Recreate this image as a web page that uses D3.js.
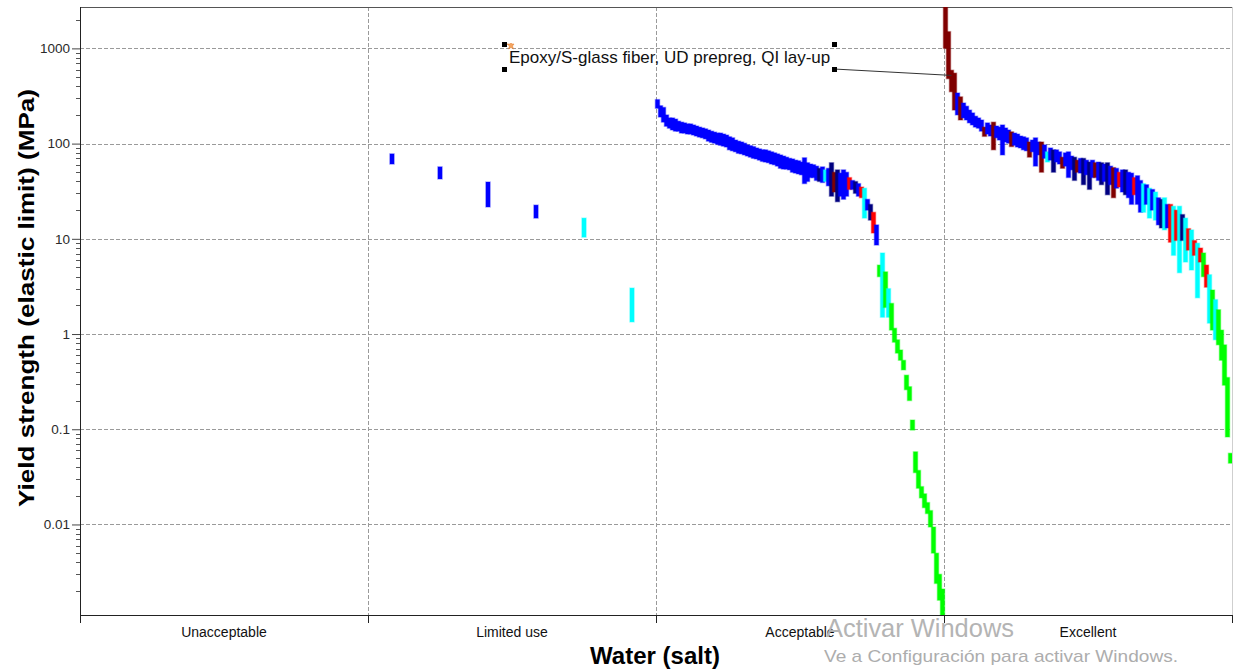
<!DOCTYPE html>
<html><head><meta charset="utf-8">
<script src="https://cdn.jsdelivr.net/npm/d3@7"></script>
<style>
body{margin:0;background:#fff}
svg{display:block}
text{font-family:"Liberation Sans",Arial,Helvetica,sans-serif}
</style>
</head><body>
<svg id="chart" width="1233" height="670"></svg>
<script>
// ---------------- DATA ----------------
const categories = ["Unacceptable", "Limited use", "Acceptable", "Excellent"];
const yTickValues = [0.01, 0.1, 1, 10, 100, 1000];
const yTickLabels = ["0.01", "0.1", "1", "10", "100", "1000"];

// family code -> colour
const familyCodes = ["B", "N", "D", "R", "C", "G"];
const familyColours = ["#0000ff", "#000080", "#800000", "#ff0000", "#00ffff", "#00ff00"];

// Unacceptable: no materials
const unacceptableLow = [];
const unacceptableHigh = [];
const unacceptableFamily = [];

// Limited use
const limitedLow  = [61, 42.5, 21.6, 16.5, 10.4, 1.34];
const limitedHigh = [78, 57, 39.5, 22.6, 16.5, 3.04];
const limitedFamily = ["B", "B", "B", "B", "C", "C"];

// Acceptable (MPa)
const acceptableLow = [
  235,190,168,152,145,139,135,135,129,129,
  126,126,123,120,117,115,112,106,103,101,
  98,96,94,92,86,84,82,79,78,76,
  74,72,70,69,67,65,64,63,61,60,
  58,55,54,54,53,50,49,48,47,38,
  40,44,44,41,40,39,40,36,28,31,
  24.5,28,26,28,33,33,30,28,27,16.5,
  20,15.7,11.5,8.6,4.0,1.5,1.9,1.5,1.1,0.82,
  0.63,0.53,0.42,0.26,0.20,0.098,0.035,0.024,0.019,0.015,
  0.013,0.0094,0.005,0.0024,0.0016,0.0011
];
const acceptableHigh = [
  290,250,240,200,186,186,181,172,168,165,
  161,161,157,153,149,146,143,139,135,132,
  129,129,126,123,118,115,109,106,104,101,
  97,95,93,90,88,86,86,84,82,80,
  78,76,74,72,70,69,67,66,64,71,
  63,61,60,58,55,57,53,55,63,50,
  53,49,53,50,44,41,40,38,35,34,
  26,23,19,14,5.3,7.1,4.5,3.0,2.1,1.15,
  0.87,0.68,0.53,0.37,0.28,0.125,0.058,0.037,0.025,0.021,
  0.017,0.014,0.0094,0.005,0.003,0.0021
];
const acceptableFamily = (
  "BBBBBBBBBB" + "BBBBBBBBBB" + "BBBBBBBBBB" + "BBBBBBBBBB" + "BBBBBBBBBB" +
  "BBBBNBCBND" + "NBBBRBNBRC" + "BNRBGCGCGG" + "GGGGGGGGGG" + "GGGGGG"
).split("");

// Excellent (MPa)
const excellentLow = [
  1000,480,350,225,200,177,186,177,165,157,
  149,145,135,119,126,120,86,115,109,76,
  104,101,93,96,92,90,86,84,72,82,
  58,76,50,70,64,67,50,64,61,55,
  58,44,53,41,50,49,37,47,33,44,
  44,41,37,40,29,37,27,34,35,31,
  29,27,23,29,23,19,19,23,16.5,20,
  15.7,14,13,12.4,13,9.2,6.7,9.6,4.4,9.6,
  5.7,7.6,4.7,6.7,2.4,5.7,4.0,3.1,1.3,1.1,
  0.87,0.77,0.53,0.29,0.083,0.044
];
const excellentHigh = [
  4000,1500,590,550,340,310,267,247,225,210,
  194,186,177,149,165,157,168,153,149,157,
  146,139,133,129,126,120,118,115,104,109,
  115,104,104,97,82,90,86,86,82,72,
  80,82,74,72,67,70,70,67,64,67,
  63,64,63,61,63,58,56,55,50,53,
  53,50,49,44,46,41,38,37,34,33,
  31,27,26,27,23,23,22,20,22,18,
  16.5,12.8,12.4,9.6,9,8,7.1,5.3,4.2,2.9,
  2.3,1.8,1.1,0.77,0.35,0.056
];
const excellentFamily = (
  "DDDDBDBBBB" + "BBBDBBDBBB" + "BBDBBBBBDB" + "BBDBCBNBBD" + "BBBNDBNBNB" +
  "DBNBNBDBRB" + "NBBRBBCBCB" + "CBNCBRCRCN" + "CRCRCRGRCG" + "CGGGGG"
).split("");

// annotation
const annotationText = "Epoxy/S-glass fiber, UD prepreg, QI lay-up";
const annotationCategory = "Excellent";
const annotationIndex = 2;
const annotationValue = 520;

const xTitle = "Water (salt)";
const yTitle = "Yield strength (elastic limit) (MPa)";

// ---------------- LAYOUT ----------------
const plot = {left: 80, right: 1232, top: 7, bottom: 615};
const svg = d3.select("#chart");

const x = d3.scaleBand().domain(categories).range([plot.left, plot.right]).padding(0);
const y = d3.scaleLog().domain([0.00112, 2720]).range([plot.bottom, plot.top]);
const colour = d3.scaleOrdinal().domain(familyCodes).range(familyColours);

const groups = [
  {cat: "Unacceptable", low: unacceptableLow, high: unacceptableHigh, fam: unacceptableFamily},
  {cat: "Limited use", low: limitedLow, high: limitedHigh, fam: limitedFamily},
  {cat: "Acceptable", low: acceptableLow, high: acceptableHigh, fam: acceptableFamily},
  {cat: "Excellent", low: excellentLow, high: excellentHigh, fam: excellentFamily}
];

function inner(g) {
  return d3.scaleBand().domain(d3.range(g.low.length)).range([0, x.bandwidth()]).padding(0);
}

// grid
const gridG = svg.append("g");
gridG.selectAll("line.h").data(yTickValues).join("line")
  .attr("x1", plot.left).attr("x2", plot.right)
  .attr("y1", d => Math.round(y(d)) + 0.5).attr("y2", d => Math.round(y(d)) + 0.5)
  .attr("stroke", "#9a9a9a").attr("stroke-dasharray", "4,2").attr("stroke-width", 1);
gridG.selectAll("line.v").data(categories.slice(1)).join("line")
  .attr("x1", d => Math.round(x(d)) + 0.5).attr("x2", d => Math.round(x(d)) + 0.5)
  .attr("y1", plot.top).attr("y2", plot.bottom)
  .attr("stroke", "#9a9a9a").attr("stroke-dasharray", "4,2").attr("stroke-width", 1);

// right / top frame
svg.append("line").attr("x1", plot.right + 0.5).attr("x2", plot.right + 0.5)
  .attr("y1", plot.top).attr("y2", plot.bottom).attr("stroke", "#cfcfcf");
svg.append("line").attr("x1", plot.left).attr("x2", plot.right)
  .attr("y1", plot.top + 0.5).attr("y2", plot.top + 0.5).attr("stroke", "#555");

// clip
svg.append("clipPath").attr("id", "clip").append("rect")
  .attr("x", plot.left).attr("y", plot.top)
  .attr("width", plot.right - plot.left).attr("height", plot.bottom - plot.top);

const barsG = svg.append("g").attr("clip-path", "url(#clip)");
const barW = 4.2;
groups.forEach(g => {
  if (!g.low.length) return;
  const xi = inner(g);
  const rows = g.low.map((lo, i) => ({i, lo, hi: g.high[i], f: g.fam[i]}));
  barsG.append("g").selectAll("rect").data(rows).join("rect")
    .attr("x", d => x(g.cat) + xi(d.i) + xi.bandwidth() / 2 - barW / 2)
    .attr("width", barW)
    .attr("y", d => y(d.hi))
    .attr("height", d => Math.max(2, y(d.lo) - y(d.hi)))
    .attr("fill", d => colour(d.f))
    .attr("stroke", d => colour(d.f))
    .attr("stroke-opacity", 0.35)
    .attr("stroke-width", 1.4);
});

// axes
const yAxis = d3.axisLeft(y)
  .tickValues(yTickValues).tickFormat((d, i) => yTickLabels[i])
  .tickSize(8).tickPadding(2);
const yG = svg.append("g").attr("transform", `translate(${plot.left},0)`).call(yAxis);
yG.select(".domain").remove();
yG.selectAll("text").attr("font-size", 13.5).attr("fill", "#2a2a2a")
  .attr("font-family", "'Liberation Sans',Arial,sans-serif");
yG.selectAll("line").attr("stroke", "#444");

// minor ticks
const minor = [];
for (let k = -3; k <= 3; k++) for (let m = 2; m <= 9; m++) {
  const v = m * Math.pow(10, k);
  if (v > y.domain()[0] && v < y.domain()[1]) minor.push(v);
}
svg.append("g").selectAll("line").data(minor).join("line")
  .attr("x1", plot.left - 4).attr("x2", plot.left)
  .attr("y1", d => Math.round(y(d)) + 0.5).attr("y2", d => Math.round(y(d)) + 0.5)
  .attr("stroke", "#555");

svg.append("line").attr("x1", plot.left + 0.5).attr("x2", plot.left + 0.5)
  .attr("y1", plot.top).attr("y2", plot.bottom + 8).attr("stroke", "#222");

// x axis
svg.append("line").attr("x1", plot.left).attr("x2", plot.right + 1)
  .attr("y1", plot.bottom + 0.5).attr("y2", plot.bottom + 0.5).attr("stroke", "#222");
const bounds = categories.map(c => x(c)).concat([plot.right]);
svg.append("g").selectAll("line").data(bounds).join("line")
  .attr("x1", d => Math.round(d) + 0.5).attr("x2", d => Math.round(d) + 0.5)
  .attr("y1", plot.bottom).attr("y2", plot.bottom + 8).attr("stroke", "#222");
svg.append("g").selectAll("text").data(categories).join("text")
  .attr("x", d => x(d) + x.bandwidth() / 2).attr("y", 637)
  .attr("text-anchor", "middle").attr("font-size", 14).attr("fill", "#111")
  .text(d => d);

// titles
svg.append("text").attr("x", 655).attr("y", 664).attr("text-anchor", "middle")
  .attr("font-size", 24).attr("font-weight", "bold").attr("fill", "#000").text(xTitle);
svg.append("text").attr("transform", "translate(34,298) rotate(-90)")
  .attr("text-anchor", "middle").attr("font-size", 22).attr("font-weight", "bold")
  .attr("textLength", 418).attr("lengthAdjust", "spacingAndGlyphs")
  .attr("fill", "#000").text(yTitle);

// annotation
const ag = groups.find(g => g.cat === annotationCategory);
const axi = inner(ag);
const tx = x(annotationCategory) + axi(annotationIndex) + axi.bandwidth() / 2;
const ty = y(annotationValue);
svg.append("line").attr("x1", 834).attr("y1", 69).attr("x2", tx).attr("y2", ty)
  .attr("stroke", "#333").attr("stroke-width", 1);
svg.append("text").attr("x", 509).attr("y", 63).attr("font-size", 17)
  .attr("fill", "#111").text(annotationText);
[[504.5, 44.5], [504.5, 69.5], [834.5, 44.5], [834.5, 69.5]].forEach(p => {
  svg.append("rect").attr("x", p[0] - 2.5).attr("y", p[1] - 2.5)
    .attr("width", 5).attr("height", 5).attr("fill", "#000");
});
svg.append("path").attr("d", "M507,44 l3,0 l1,-1 l1,1 l2,0 l-1.5,2 l1,3 l-2.5,-1.5 l-2.5,1.5 l1,-3 z")
  .attr("fill", "#f4a460").attr("stroke", "#e07a2a").attr("stroke-width", 0.5);

// watermark
svg.append("text").attr("x", 826).attr("y", 637).attr("font-size", 25)
  .attr("font-family", "'Open Sans','Noto Sans',sans-serif").attr("font-weight", 300)
  .attr("textLength", 188).attr("lengthAdjust", "spacingAndGlyphs")
  .attr("fill", "#b4b4b4").text("Activar Windows");
svg.append("text").attr("x", 824).attr("y", 662).attr("font-size", 17)
  .attr("font-family", "'Open Sans','Noto Sans',sans-serif")
  .attr("textLength", 354).attr("lengthAdjust", "spacingAndGlyphs")
  .attr("fill", "#adadad").text("Ve a Configuración para activar Windows.");
</script>
</body></html>
